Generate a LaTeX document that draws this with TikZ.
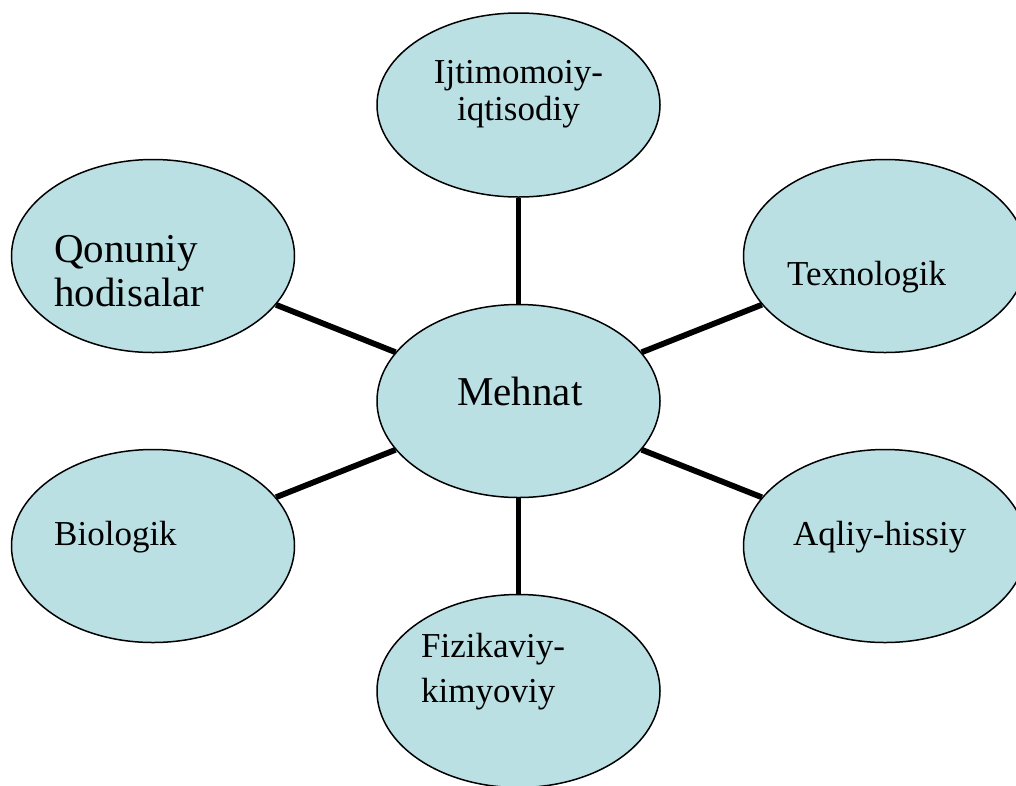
\documentclass[tikz,border=0pt]{standalone}
\usepackage{fontspec}
\setmainfont{Liberation Serif}
\usetikzlibrary{shapes.geometric}
\definecolor{bubblefill}{RGB}{186,224,228}
\begin{document}
\begin{tikzpicture}[x=1pt,y=-1pt,
  bubble/.style={ellipse, draw=black, line width=1.5pt, fill=bubblefill,
    minimum width=283pt, minimum height=193pt, inner sep=0pt},
  link/.style={line width=5.8pt, draw=black},
  small/.style={anchor=base west, inner sep=0pt, align=left,
    font=\fontsize{35}{37}\selectfont},
  large/.style={anchor=base west, inner sep=0pt, align=left,
    font=\fontsize{41}{44}\selectfont}]
  \useasboundingbox (0,0) rectangle (1016,785);
  % hub and satellites
  \node[bubble] (mehnat) at (518.5,401) {};
  \node[bubble, minimum height=184pt] (ijt) at (518.5,105) {};
  \node[bubble] (qon) at (153,256) {};
  \node[bubble] (tex) at (885,256) {};
  \node[bubble] (bio) at (153,546) {};
  \node[bubble] (aql) at (885,546) {};
  \node[bubble] (fiz) at (518.5,691) {};
  % spokes
  \draw[link] (mehnat) -- (ijt);
  \draw[link] (mehnat) -- (qon);
  \draw[link] (mehnat) -- (tex);
  \draw[link] (mehnat) -- (bio);
  \draw[link] (mehnat) -- (aql);
  \draw[link] (mehnat) -- (fiz);
  % labels (multi-line labels are placed by the baseline of their last line)
  \node[large] (tmehnat) at (457,405) {Mehnat};
  \node[small, anchor=base, align=center] (tijt) at (518.5,120) {Ijtimomoiy-\\iqtisodiy};
  \node[large] (tqon) at (54,306) {Qonuniy\\hodisalar};
  \node[small] (ttex) at (787,285) {Texnologik};
  \node[small] (tbio) at (54,545) {Biologik};
  \node[small] (taql) at (793,545) {Aqliy-hissiy};
  \node[small, font=\fontsize{35}{44.5}\selectfont] (tfiz) at (421,702) {Fizikaviy-\\kimyoviy};
\end{tikzpicture}
\end{document}
